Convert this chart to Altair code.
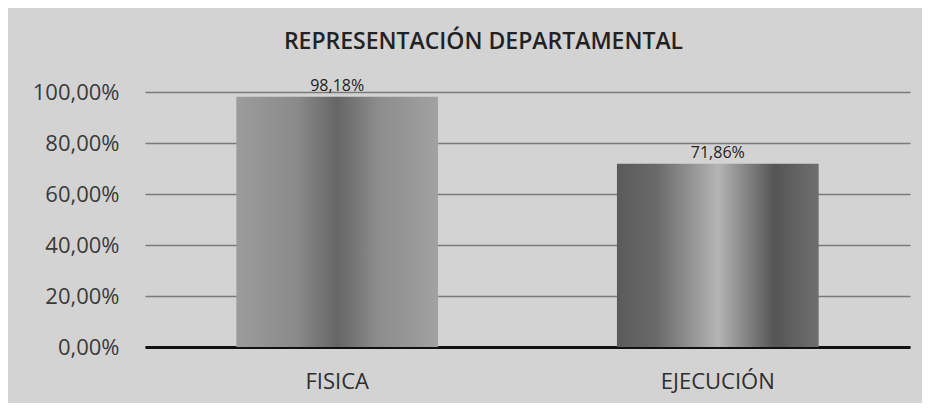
import altair as alt
import pandas as pd

categories = ["FISICA", "EJECUCIÓN"]
values = [0.9818, 0.7186]
value_labels = ["98,18%", "71,86%"]

df = pd.DataFrame({"cat": categories, "val": values, "lab": value_labels})

x_enc = alt.X("cat:N", sort=categories, title=None,
              scale=alt.Scale(paddingInner=0.47, paddingOuter=0.24),
              axis=alt.Axis(labelAngle=0, labelFontSize=22, labelColor="#2e2e2e",
                            labelFont="Open Sans", labelPadding=24, ticks=False,
                            domainColor="#111111", domainWidth=3))
y_enc = alt.Y("val:Q", title=None,
              scale=alt.Scale(domain=[0, 1], nice=False),
              axis=alt.Axis(values=[0, 0.2, 0.4, 0.6, 0.8, 1.0],
                            labelExpr="replace(format(datum.value, '.2%'), '.', ',')",
                            labelFontSize=22, labelColor="#3a3a3a", labelFont="Open Sans",
                            labelPadding=26, ticks=False, domain=False,
                            grid=True, gridColor="#7a7a7a", gridWidth=1.5))

grad_fisica = alt.LinearGradient(
    gradient="linear", x1=0, x2=1, y1=0, y2=0,
    stops=[alt.GradientStop(offset=0, color="#9c9c9c"),
           alt.GradientStop(offset=0.3, color="#8a8a8a"),
           alt.GradientStop(offset=0.5, color="#666666"),
           alt.GradientStop(offset=0.7, color="#8c8c8c"),
           alt.GradientStop(offset=1, color="#a2a2a2")])
grad_ejec = alt.LinearGradient(
    gradient="linear", x1=0, x2=1, y1=0, y2=0,
    stops=[alt.GradientStop(offset=0, color="#5a5a5a"),
           alt.GradientStop(offset=0.2, color="#6a6a6a"),
           alt.GradientStop(offset=0.5, color="#b4b4b4"),
           alt.GradientStop(offset=0.78, color="#555555"),
           alt.GradientStop(offset=1, color="#6e6e6e")])

base = alt.Chart(df)
bar1 = base.transform_filter(alt.datum.cat == "FISICA").mark_bar(color=grad_fisica).encode(x=x_enc, y=y_enc)
bar2 = base.transform_filter(alt.datum.cat == "EJECUCIÓN").mark_bar(color=grad_ejec).encode(x=x_enc, y=y_enc)
text = base.mark_text(dy=-11, fontSize=16, font="Open Sans", color="#222222").encode(
    x=alt.X("cat:N", sort=categories), y="val:Q", text="lab:N")

chart = alt.layer(bar1, bar2, text).properties(
    width=765, height=255,
    autosize=alt.AutoSizeParams(type="none"),
    padding={"left": 137, "top": 84, "right": 12, "bottom": 56},
    background="#d3d3d3",
    title=alt.TitleParams("REPRESENTACIÓN DEPARTAMENTAL", anchor="middle", dx=-44,
                          offset=24, fontSize=23, font="Open Sans", fontWeight=600,
                          color="#222222"),
).configure_view(stroke=None)

chart.save("out.html", embed_options={"renderer": "svg", "actions": False})
